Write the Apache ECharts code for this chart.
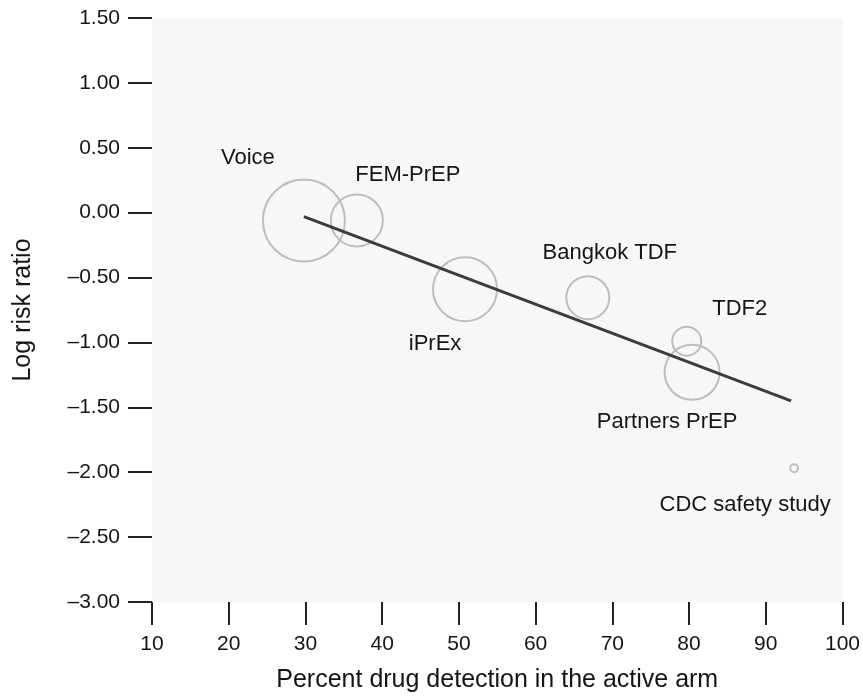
<!DOCTYPE html>
<html>
<head>
<meta charset="utf-8">
<script src="https://cdn.jsdelivr.net/npm/echarts@6/dist/echarts.min.js"></script>
<style>html,body{margin:0;padding:0;background:#fff;}#chart{width:863px;height:698px;}</style>
</head>
<body>
<div id="chart"></div>
<script>
// ---- data ----
var studies = ['Voice', 'FEM-PrEP', 'iPrEx', 'Bangkok TDF', 'TDF2', 'Partners PrEP', 'CDC safety study'];
var detection = [29.8, 36.7, 50.8, 66.8, 79.7, 80.4, 93.7];
var logRiskRatio = [-0.06, -0.06, -0.59, -0.655, -0.99, -1.23, -1.97];
var studyWeight = [82, 52, 64, 43, 29, 55, 8];
var fitX = [29.8, 93.3];
var fitY = [-0.03, -1.45];
var xTicks = [10, 20, 30, 40, 50, 60, 70, 80, 90, 100];
var yTicks = [-3, -2.5, -2, -1.5, -1, -0.5, 0, 0.5, 1, 1.5];

// ---- styles (label offsets relative to bubble centre) ----
var labelOffsets = [[-56, -63], [51, -46], [-30, 55], [22, -45], [53, -32], [-25, 50], [-49, 37]];

var FONT = '"Liberation Sans", Arial, Helvetica, sans-serif';
var TXT = '#151515';

var bubbleData = studies.map(function (name, i) {
  return {
    name: name,
    value: [detection[i], logRiskRatio[i], studyWeight[i]],
    label: { offset: labelOffsets[i], color: TXT }
  };
});

var chart = echarts.init(document.getElementById('chart'), null, { renderer: 'canvas' });
chart.setOption({
  animation: false,
  backgroundColor: '#ffffff',
  grid: {
    left: 152, right: 20, top: 18, bottom: 96,
    show: true, backgroundColor: '#f7f7f7', borderWidth: 0
  },
  xAxis: {
    type: 'value',
    min: xTicks[0], max: xTicks[xTicks.length - 1], interval: 10,
    name: 'Percent drug detection in the active arm',
    nameLocation: 'middle', nameGap: 66,
    nameTextStyle: { fontFamily: FONT, fontSize: 25, color: TXT },
    axisLine: { show: false, onZero: false },
    axisTick: { show: true, inside: false, length: 23, lineStyle: { color: '#222', width: 2 } },
    axisLabel: { margin: 32, fontFamily: FONT, fontSize: 21, color: TXT },
    splitLine: { show: false }
  },
  yAxis: {
    type: 'value',
    min: yTicks[0], max: yTicks[yTicks.length - 1], interval: 0.5,
    name: 'Log risk ratio',
    nameLocation: 'middle', nameGap: 116, nameRotate: 90,
    nameTextStyle: { fontFamily: FONT, fontSize: 25, color: TXT },
    axisLine: { show: false, onZero: false },
    axisTick: { show: true, inside: false, length: 24, lineStyle: { color: '#222', width: 2 } },
    axisLabel: {
      margin: 32, fontFamily: FONT, fontSize: 21, color: TXT,
      formatter: function (v) {
        if (Math.abs(v) < 1e-9) return '0.00';
        return (v < 0 ? '\u2013' : '') + Math.abs(v).toFixed(2);
      }
    },
    splitLine: { show: false }
  },
  series: [
    {
      type: 'scatter',
      data: bubbleData,
      symbol: 'circle',
      symbolSize: function (val) { return val[2]; },
      itemStyle: { color: 'rgba(0,0,0,0)', borderColor: '#bdbdbd', borderWidth: 2, opacity: 1 },
      label: {
        show: true, position: 'inside',
        formatter: function (p) { return p.name; },
        fontFamily: FONT, fontSize: 22, color: TXT, opacity: 1,
        textBorderWidth: 0
      },
      emphasis: { disabled: true },
      z: 2
    },
    {
      type: 'line',
      data: fitX.map(function (x, i) { return [x, fitY[i]]; }),
      showSymbol: false,
      symbol: 'none',
      lineStyle: { color: '#3c3c3c', width: 3 },
      emphasis: { disabled: true },
      z: 3
    }
  ]
});
</script>
</body>
</html>
